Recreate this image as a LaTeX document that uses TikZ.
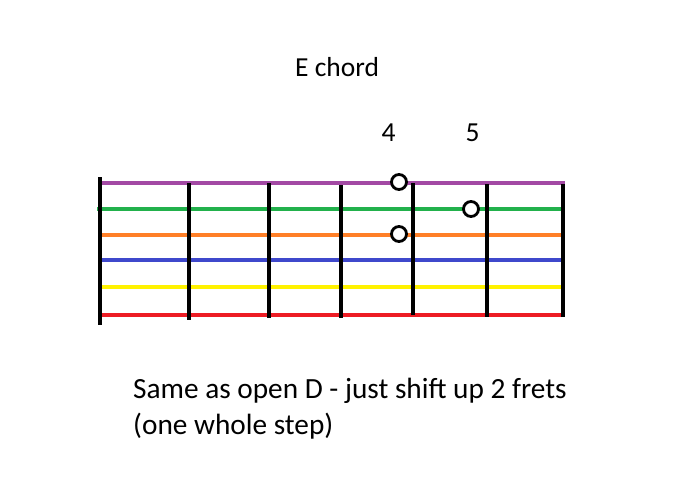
\documentclass[tikz,border=0pt]{standalone}
\usepackage{fontspec}
\setmainfont{Carlito}
\usetikzlibrary{positioning}
\definecolor{morado}{HTML}{A349A4}
\definecolor{verde}{HTML}{22B14C}
\definecolor{naranja}{HTML}{FF7F27}
\definecolor{azul}{HTML}{3F48CC}
\definecolor{amarillo}{HTML}{FFF200}
\definecolor{rojo}{HTML}{ED1C24}
\tikzset{
  cuerda/.style={line width=4pt},
  traste/.style={line width=3.3pt, color=black},
  dedo/.style={circle, draw=black, line width=2.8pt, fill=white, minimum size=15pt, inner sep=0pt},
  titulo/.style={anchor=base west, inner sep=0pt, font=\fontsize{27.5}{33}\selectfont},
  numtraste/.style={anchor=base, inner sep=0pt, font=\fontsize{27.5}{33}\selectfont},
  nota/.style={anchor=base west, inner sep=0pt, align=left, font=\fontsize{29.3}{36}\selectfont}
}
\begin{document}
\begin{tikzpicture}[x=1pt, y=-1pt]
  \useasboundingbox (0,0) rectangle (688,503);
  % strings
  \foreach \y/\c/\xa/\xb in {183/morado/100/565, 209/verde/97/562, 235/naranja/101/562,
                             260/azul/101/562, 287/amarillo/101/562, 315/rojo/101/565}
    \draw [cuerda, \c] (\xa,\y) -- (\xb,\y);
  % frets
  \foreach \x/\ya/\yb in {100/177/325, 189/183/320, 269/183/318, 341/185/318,
                          413/183/315, 487/184/317, 563/184/317}
    \draw [traste] (\x,\ya) -- (\x,\yb);
  % fingers
  \node (d1) [dedo] at (399,182) {};
  \node (d2) [dedo] at (471,209) {};
  \node (d3) [dedo] at (399,234) {};
  % labels
  \node (tit) [titulo] at (295,77) {E chord};
  \node (n4) [numtraste] at (388.5,141) {4};
  \node (n5) [numtraste] at (472.5,141) {5};
  \node (nota) [nota] at (133,434) {Same as open D - just shift up 2 frets\\(one whole step)};
\end{tikzpicture}
\end{document}
